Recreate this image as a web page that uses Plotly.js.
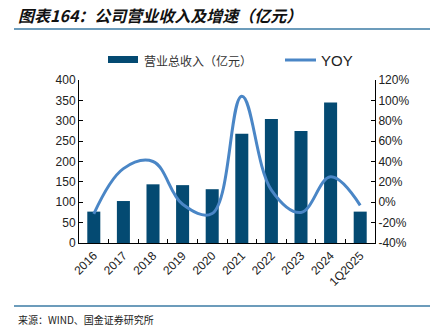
<!DOCTYPE html>
<html><head><meta charset="utf-8">
<script src="https://cdn.plot.ly/plotly-3.0.1.min.js"></script>
<style>html,body{margin:0;padding:0;background:#fff}#chart{width:430px;height:330px}</style>
</head><body><div id="chart"></div>
<script>
const categories = ["2016","2017","2018","2019","2020","2021","2022","2023","2024","1Q2025"];
const revenue = [77, 103, 144, 142, 132, 268, 304, 275, 345, 77];
const yoy = [-11.5, 33, 40, -2, -11, 104, 12, -10, 25, -3];
const leftTicks = [0,50,100,150,200,250,300,350,400];
const rightTicks = [-40,-20,0,20,40,60,80,100,120];

const barColor = "#044a72";
const lineColor = "#4a86c6";
const tickFont = {family:"Liberation Sans, Arial", size:12, color:"#222"};

const traces = [
  {type:"bar", x:categories, y:revenue, name:"营业总收入（亿元）", marker:{color:barColor}, yaxis:"y", showlegend:false},
  {type:"scatter", mode:"lines", x:categories, y:yoy, name:"YOY", yaxis:"y2",
   line:{color:lineColor, width:3, shape:"spline", smoothing:1.1}, showlegend:false}
];

const layout = {
  width:430, height:330,
  margin:{l:79, r:55, t:80, b:87},
  paper_bgcolor:"#fff", plot_bgcolor:"#fff",
  bargap:0.56,
  showlegend:false,
  xaxis:{type:"category", tickangle:-45, tickfont:tickFont, showline:true, linecolor:"#000", linewidth:1,
         ticks:"inside", tickson:"boundaries", ticklen:4, tickcolor:"#000", showgrid:false, zeroline:false},
  yaxis:{range:[0,400], tickvals:leftTicks, ticktext:leftTicks.map(String), tickfont:tickFont,
         showline:true, linecolor:"#000", linewidth:1, ticks:"inside", ticklen:4, tickcolor:"#000",
         showgrid:false, zeroline:false},
  yaxis2:{range:[-40,120], overlaying:"y", side:"right", tickvals:rightTicks, ticktext:rightTicks.map(v=>v+"%"),
          tickfont:tickFont, showline:true, linecolor:"#000", linewidth:1, ticks:"inside", ticklen:4, tickcolor:"#000",
          showgrid:false, zeroline:false},
  shapes:[
    {type:"line", xref:"paper", yref:"paper", x0:(14-79)/296, x1:(430-79)/296, y0:(243-29)/163, y1:(243-29)/163,
     line:{color:"#3b7ba5", width:1.5}},
    {type:"line", xref:"paper", yref:"paper", x0:(14-79)/296, x1:(430-79)/296, y0:(243-306)/163, y1:(243-306)/163,
     line:{color:"#3b7ba5", width:1.5}},
    {type:"rect", xref:"paper", yref:"paper", x0:(108-79)/296, x1:(138-79)/296, y0:(243-63)/163, y1:(243-56)/163,
     fillcolor:barColor, line:{width:0}},
    {type:"line", xref:"paper", yref:"paper", x0:(285-79)/296, x1:(316-79)/296, y0:(243-60)/163, y1:(243-60)/163,
     line:{color:lineColor, width:3}}
  ],
  annotations:[
    {xref:"paper", yref:"paper", x:(16-79)/296, y:(243-15)/163, xanchor:"left", yanchor:"middle", showarrow:false,
     text:"<b><i>图表164：公司营业收入及增速（亿元）</i></b>", font:{family:"Noto Sans CJK SC", size:16, color:"#111"}},
    {xref:"paper", yref:"paper", x:(142-79)/296, y:(243-60)/163, xanchor:"left", yanchor:"middle", showarrow:false,
     text:"营业总收入（亿元）", font:{family:"Noto Sans CJK SC", size:12, color:"#333"}},
    {xref:"paper", yref:"paper", x:(319-79)/296, y:(243-60)/163, xanchor:"left", yanchor:"middle", showarrow:false,
     text:"YOY", font:{family:"Liberation Sans, Arial", size:15, color:"#222"}},
    {xref:"paper", yref:"paper", x:(16-79)/296, y:(243-319)/163, xanchor:"left", yanchor:"middle", showarrow:false,
     text:"来源：WIND、国金证券研究所", font:{family:"Noto Sans CJK SC", size:10, color:"#222"}}
  ]
};
Plotly.newPlot("chart", traces, layout, {staticPlot:true, displayModeBar:false});
</script></body></html>
